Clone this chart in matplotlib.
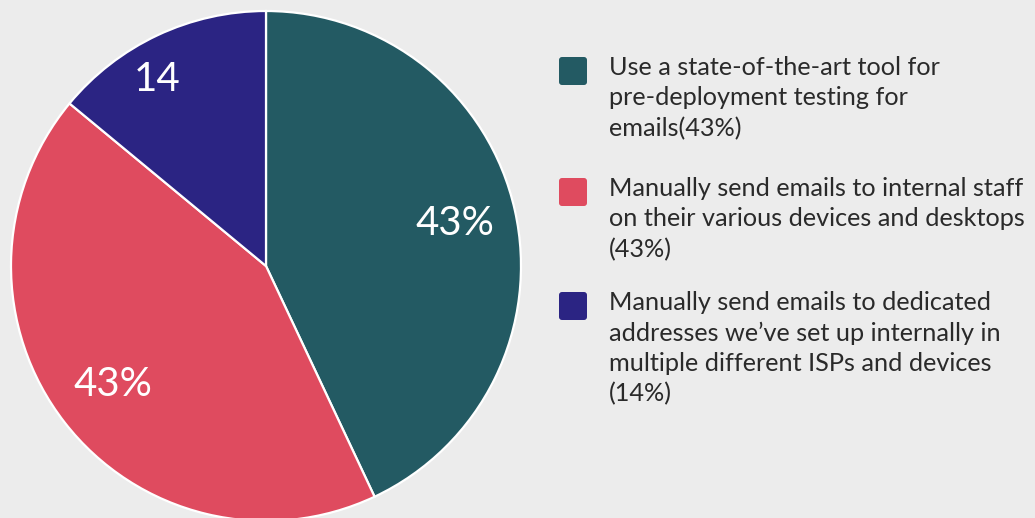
import numpy as np
import matplotlib
matplotlib.use("Agg")
import matplotlib.pyplot as plt
from matplotlib.patches import FancyBboxPatch

# Survey shares for email pre-deployment testing methods
categories = [
    "Use a state-of-the-art tool for\npre-deployment testing for\nemails(43%)",
    "Manually send emails to internal staff\non their various devices and desktops\n(43%)",
    "Manually send emails to dedicated\naddresses we\u2019ve set up internally in\nmultiple different ISPs and devices\n(14%)",
]
values = [43, 43, 14]
slice_labels = ["43%", "43%", "14"]
colors = ["#235a63", "#df4b5f", "#2b2483"]

W, H = 1035, 518
fig = plt.figure(figsize=(W / 100, H / 100), dpi=100)
fig.patch.set_facecolor("#ececec")
ax = fig.add_axes([0, 0, 1, 1])

cx, cy, R = 266, H - 266, 255
wedges, texts = ax.pie(
    values, colors=colors, startangle=90, counterclock=False,
    center=(cx, cy), radius=R, labels=slice_labels, labeldistance=0.76,
    wedgeprops=dict(edgecolor="white", linewidth=1.6),
    frame=True,
)
ax.set_xlim(0, W)
ax.set_ylim(0, H)
ax.set_aspect("equal")
ax.axis("off")
for t in texts:
    t.set_ha("center")
    t.set_va("center")
    t.set_color("white")
    t.set_fontfamily("Lato")
    t.set_fontsize(29)

# small last slice: label sits further out, nearer the top edge
w = wedges[2]
ang = np.deg2rad(w.theta1 + 0.6 * (w.theta2 - w.theta1))
texts[2].set_position((cx + 0.845 * R * np.cos(ang), cy + 0.845 * R * np.sin(ang)))

# Legend: rounded swatches with wrapped descriptions
legend_tops = [57, 178, 292]
for top, col, txt in zip(legend_tops, colors, categories):
    ax.add_patch(FancyBboxPatch((559 + 3, H - top - 28 + 3), 22, 22,
                                boxstyle="round,pad=3", fc=col, ec="none"))
    ax.text(609, H - top + 1, txt, ha="left", va="top", fontsize=18.2,
            family="Lato", color="#2a2a2a", linespacing=1.38)

fig.savefig("out.png", dpi=100, facecolor=fig.get_facecolor())
